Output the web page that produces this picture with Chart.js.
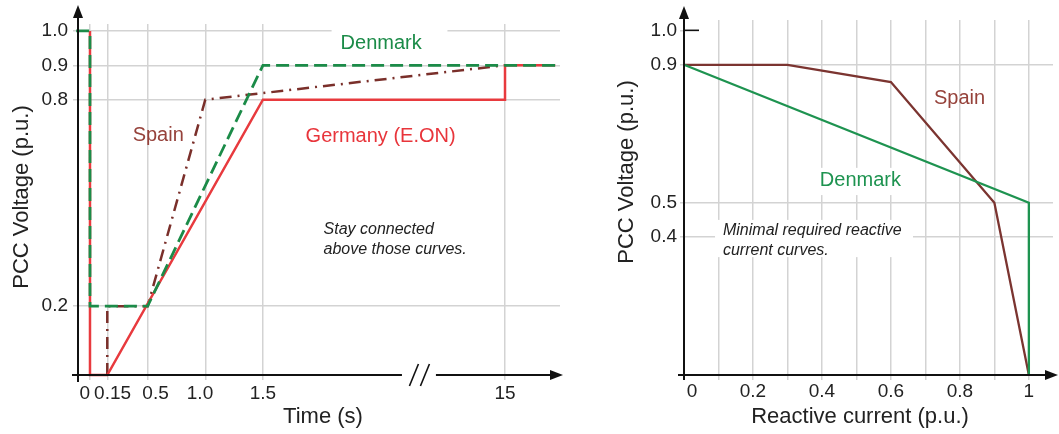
<!DOCTYPE html>
<html>
<head>
<meta charset="utf-8">
<script src="https://cdn.jsdelivr.net/npm/chart.js@4.4.1/dist/chart.umd.min.js"></script>
<style>
  body { margin: 0; background: #fff; }
  #wrap { position: relative; width: 1059px; height: 434px; }
  canvas { position: absolute; top: 0; }
  #ridethrough { left: 0; }
  #reactive { left: 590px; }
</style>
</head>
<body>
<div id="wrap">
  <canvas id="ridethrough" width="570" height="434"></canvas>
  <canvas id="reactive" width="469" height="434"></canvas>
</div>
<script>
// ---- left panel: voltage ride-through curves (time axis broken after 1.5 s) ----
const timeTicks = [0, 0.15, 0.5, 1.0, 1.5, 15];
const timeTickLabels = ['0', '0.15', '0.5', '1.0', '1.5', '15'];
const voltTicksLeft = [0.2, 0.8, 0.9, 1.0];

const germanyTime = [0, 0, 0.15, 1.5, 15, 15, 17.8];
const germanyVolt = [1.0, 0, 0, 0.8, 0.8, 0.9, 0.9];
const denmarkTime = [-0.12, 0, 0, 0.5, 1.5, 17.8];
const denmarkVolt = [1.0, 1.0, 0.2, 0.2, 0.9, 0.9];
const spainTime = [0.15, 0.15, 0.5, 1.0, 15];
const spainVolt = [0, 0.2, 0.2, 0.8, 0.9];

// ---- right panel: minimal reactive current curves ----
const currentTicks = [0, 0.1, 0.2, 0.3, 0.4, 0.5, 0.6, 0.7, 0.8, 0.9, 1.0];
const currentTickLabels = ['0', '', '0.2', '', '0.4', '', '0.6', '', '0.8', '', '1'];
const voltTicksRight = [0.4, 0.5, 0.9, 1.0];

const spainCurrent = [0, 0.3, 0.6, 0.9, 1.0];
const spainQVolt = [0.9, 0.9, 0.85, 0.5, 0];
const denmarkCurrent = [0, 1.0, 1.0];
const denmarkQVolt = [0.9, 0.5, 0];

const FONT = '"Liberation Sans", Arial, Helvetica, sans-serif';
const GRID = '#d3d3d3';
const INK = '#222';
Chart.defaults.font.family = FONT;

// time axis: linear up to 1.5 s, then squeezed so 15 s fits next to it
const BREAK_AT = 1.5;
const SQUEEZE = 2.1 / 13.5;
function timeToAxis(t) {
    return t <= BREAK_AT ? t : BREAK_AT + (t - BREAK_AT) * SQUEEZE;
}

// shift a centred tick label sideways with non-breaking spaces (+ right, - left)
function nudge(text, n) {
    const pad = '\u00a0'.repeat(Math.abs(n));
    return n > 0 ? pad + text : text + pad;
}
const leftNudge = [-2, 2, 3, -2, 0, 0];
const rightNudge = [3, 0, 0, 0, 0, 0, 0, 0, 0, 0, 0];

function pts(xs, ys, fx) {
    return xs.map((v, i) => ({ x: fx ? fx(v) : v, y: ys[i] }));
}

// black axes with arrow heads, optional break marks
const axisArrows = {
    id: 'axisArrows',
    afterDraw(chart, args, o) {
        const { ctx, chartArea: a, scales: { x, y } } = chart;
        ctx.save();
        ctx.strokeStyle = '#111';
        ctx.fillStyle = '#111';
        ctx.lineWidth = 2;
        const seg = (x0, y0, x1, y1) => { ctx.beginPath(); ctx.moveTo(x0, y0); ctx.lineTo(x1, y1); ctx.stroke(); };

        // vertical axis
        seg(a.left, a.bottom + o.under, a.left, o.yTip + 10);
        ctx.beginPath();
        ctx.moveTo(a.left, o.yTip);
        ctx.lineTo(a.left - 5, o.yTip + 13);
        ctx.lineTo(a.left + 5, o.yTip + 13);
        ctx.closePath();
        ctx.fill();

        // horizontal axis
        const xEnd = a.right + o.xOver;
        if (o.breakAt != null) {
            const c = x.getPixelForValue(o.breakAt);
            seg(a.left - 6, a.bottom, c - 17, a.bottom);
            seg(c + 17, a.bottom, xEnd - 10, a.bottom);
            ctx.lineWidth = 1.6;
            [-5, 6].forEach(d => seg(c + d - 4.5, a.bottom + 11, c + d + 4.5, a.bottom - 11));
        } else {
            seg(a.left - 6, a.bottom, xEnd - 10, a.bottom);
        }
        ctx.beginPath();
        ctx.moveTo(xEnd, a.bottom);
        ctx.lineTo(xEnd - 13, a.bottom - 5);
        ctx.lineTo(xEnd - 13, a.bottom + 5);
        ctx.closePath();
        ctx.fill();

        if (o.innerTick != null) {
            ctx.lineWidth = 1.6;
            const ty = y.getPixelForValue(o.innerTick);
            seg(a.left, ty, a.left + 15, ty);
        }
        ctx.restore();
    }
};

// curve names, notes with white backing, axis titles
const notes = {
    id: 'notes',
    beforeDatasetsDraw(chart, args, o) {
        const { ctx, scales: { x, y } } = chart;
        ctx.save();
        ctx.fillStyle = '#fff';
        (o.boxes || []).forEach(b => {
            const x0 = x.getPixelForValue(b.x0), x1 = x.getPixelForValue(b.x1);
            const y0 = y.getPixelForValue(b.y0), y1 = y.getPixelForValue(b.y1);
            ctx.fillRect(x0, Math.min(y0, y1), x1 - x0, Math.abs(y1 - y0));
        });
        ctx.restore();
    },
    afterDatasetsDraw(chart, args, o) {
        const { ctx, scales: { x, y } } = chart;
        ctx.save();
        ctx.textBaseline = 'middle';
        ctx.textAlign = 'left';
        (o.labels || []).forEach(n => {
            ctx.font = (n.italic ? 'italic ' : '') + n.size + 'px ' + FONT;
            ctx.fillStyle = n.color;
            ctx.fillText(n.text, x.getPixelForValue(n.x), y.getPixelForValue(n.y));
        });
        ctx.fillStyle = INK;
        ctx.font = '22px ' + FONT;
        ctx.textAlign = 'center';
        (o.titles || []).forEach(t => {
            ctx.save();
            ctx.translate(t.px, t.py);
            if (t.vertical) ctx.rotate(-Math.PI / 2);
            ctx.fillText(t.text, 0, 0);
            ctx.restore();
        });
        ctx.restore();
    }
};

const tickFont = { size: 19 };

new Chart(document.getElementById('ridethrough'), {
    type: 'line',
    data: {
        datasets: [
            {
                label: 'Denmark',
                data: pts(denmarkTime, denmarkVolt, timeToAxis),
                borderColor: '#1b8b48',
                borderWidth: 2.8,
                borderDash: [13, 6],
                pointRadius: 0,
                clip: false
            },
            {
                label: 'Germany (E.ON)',
                data: pts(germanyTime, germanyVolt, timeToAxis),
                borderColor: '#e83a3e',
                borderWidth: 2.5,
                pointRadius: 0,
                clip: false
            },
            {
                label: 'Spain',
                data: pts(spainTime, spainVolt, timeToAxis),
                borderColor: '#7a2f2a',
                borderWidth: 2.5,
                borderDash: [12, 6, 2, 6],
                pointRadius: 0,
                clip: false
            }
        ]
    },
    options: {
        responsive: false,
        animation: false,
        layout: { padding: { top: 24, right: 10, left: 0, bottom: 0 } },
        scales: {
            x: {
                type: 'linear',
                min: -0.104,
                max: 4.077,
                afterBuildTicks: s => { s.ticks = timeTicks.map(t => ({ value: timeToAxis(t) })); },
                afterFit: s => { s.height = 59; },
                ticks: {
                    autoSkip: false, maxRotation: 0, padding: 2, color: INK, font: tickFont,
                    callback: (v, i) => nudge(timeTickLabels[i], leftNudge[i])
                },
                grid: { color: GRID, lineWidth: 1.5, tickLength: 5, tickColor: GRID },
                border: { display: false }
            },
            y: {
                type: 'linear',
                min: 0,
                max: 1.02,
                afterBuildTicks: s => { s.ticks = voltTicksLeft.map(v => ({ value: v })); },
                afterFit: s => { s.width = 78; },
                ticks: { padding: 5, color: INK, font: tickFont, callback: v => v.toFixed(1) },
                grid: { color: GRID, lineWidth: 1.5, tickLength: 5, tickColor: GRID },
                border: { display: false }
            }
        },
        plugins: {
            legend: { display: false },
            tooltip: { enabled: false },
            axisArrows: { yTip: 5, under: 7, xOver: 3, breakAt: timeToAxis(10.2) },
            notes: {
                boxes: [{ x0: timeToAxis(5.33), x1: timeToAxis(11.79), y0: 1.01, y1: 0.917 }],
                labels: [
                    { text: 'Spain', x: timeToAxis(0.37), y: 0.697, color: '#96423b', size: 20 },
                    { text: 'Denmark', x: timeToAxis(5.83), y: 0.964, color: '#1b8b48', size: 20 },
                    { text: 'Germany (E.ON)', x: timeToAxis(3.88), y: 0.694, color: '#e8353b', size: 20 },
                    { text: 'Stay connected', x: timeToAxis(4.88), y: 0.424, color: INK, size: 16, italic: true },
                    { text: 'above those curves.', x: timeToAxis(4.88), y: 0.366, color: INK, size: 16, italic: true }
                ],
                titles: [
                    { text: 'PCC Voltage (p.u.)', px: 22, py: 197, vertical: true },
                    { text: 'Time (s)', px: 323, py: 417 }
                ]
            }
        }
    },
    plugins: [axisArrows, notes]
});

new Chart(document.getElementById('reactive'), {
    type: 'line',
    data: {
        datasets: [
            {
                label: 'Denmark',
                data: pts(denmarkCurrent, denmarkQVolt),
                borderColor: '#1e9350',
                borderWidth: 2.3,
                pointRadius: 0,
                clip: false
            },
            {
                label: 'Spain',
                data: pts(spainCurrent, spainQVolt),
                borderColor: '#7b3430',
                borderWidth: 2.3,
                pointRadius: 0,
                clip: false
            }
        ]
    },
    options: {
        responsive: false,
        animation: false,
        layout: { padding: { top: 20, right: 6, left: 0, bottom: 0 } },
        scales: {
            x: {
                type: 'linear',
                min: 0,
                max: 1.07,
                afterBuildTicks: s => { s.ticks = currentTicks.map(v => ({ value: v })); },
                afterFit: s => { s.height = 59; },
                ticks: {
                    autoSkip: false, maxRotation: 0, padding: 0, color: INK, font: tickFont,
                    callback: (v, i) => nudge(currentTickLabels[i], rightNudge[i])
                },
                grid: { color: GRID, lineWidth: 1.5, tickLength: 5, tickColor: GRID },
                border: { display: false }
            },
            y: {
                type: 'linear',
                min: 0,
                max: 1.03,
                afterBuildTicks: s => { s.ticks = voltTicksRight.map(v => ({ value: v })); },
                afterFit: s => { s.width = 94; },
                ticks: { padding: 3, color: INK, font: tickFont, callback: v => v.toFixed(1) },
                grid: {
                    color: c => (c.tick && c.tick.value === 1.0 ? 'rgba(0,0,0,0)' : GRID),
                    lineWidth: 1.5, tickLength: 4, tickColor: GRID
                },
                border: { display: false }
            }
        },
        plugins: {
            legend: { display: false },
            tooltip: { enabled: false },
            axisArrows: { yTip: 6, under: 5, xOver: 5, innerTick: 1.0 },
            notes: {
                boxes: [
                    { x0: 0.386, x1: 0.64, y0: 0.601, y1: 0.522 },
                    { x0: 0.09, x1: 0.664, y0: 0.45, y1: 0.342 }
                ],
                labels: [
                    { text: 'Spain', x: 0.725, y: 0.801, color: '#96423b', size: 20 },
                    { text: 'Denmark', x: 0.394, y: 0.563, color: '#1e9350', size: 20 },
                    { text: 'Minimal required reactive', x: 0.113, y: 0.418, color: INK, size: 16, italic: true },
                    { text: 'current curves.', x: 0.113, y: 0.36, color: INK, size: 16, italic: true }
                ],
                titles: [
                    { text: 'PCC Voltage (p.u.)', px: 37, py: 172, vertical: true },
                    { text: 'Reactive current (p.u.)', px: 270, py: 417 }
                ]
            }
        }
    },
    plugins: [axisArrows, notes]
});
</script>
</body>
</html>
